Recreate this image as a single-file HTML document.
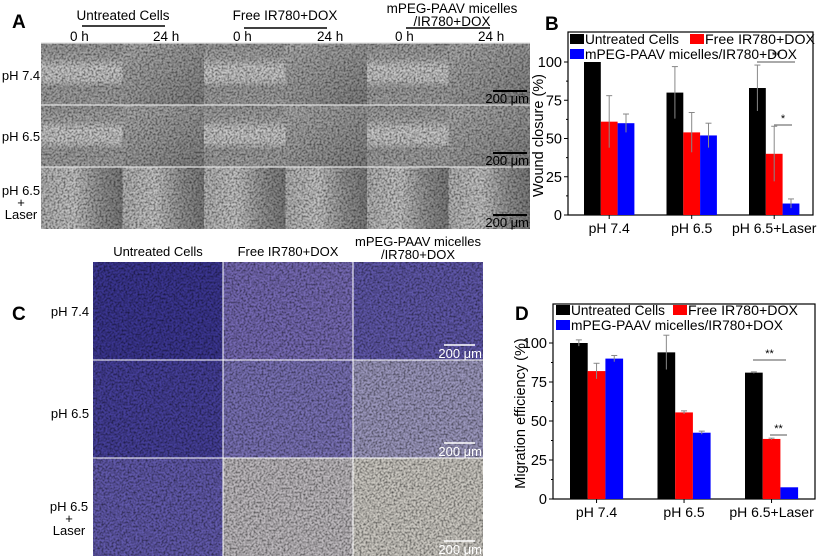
<!DOCTYPE html>
<html><head><meta charset="utf-8"><style>
body{margin:0;background:#fff;}
svg{display:block;font-family:"Liberation Sans",Arial,sans-serif;}
</style></head><body>
<svg width="817" height="560" viewBox="0 0 817 560">
<defs>
<linearGradient id="gw" x1="0" y1="0" x2="0" y2="1">
<stop offset="0" stop-color="#9a9a9a"/><stop offset="0.25" stop-color="#a6a6a6"/><stop offset="0.4" stop-color="#c8c8c8"/><stop offset="0.6" stop-color="#c2c2c2"/><stop offset="0.72" stop-color="#9c9c9c"/><stop offset="1" stop-color="#a0a0a0"/></linearGradient>
<linearGradient id="gc" x1="0" y1="0" x2="1" y2="1">
<stop offset="0" stop-color="#acacac"/><stop offset="0.5" stop-color="#989898"/><stop offset="1" stop-color="#7e7e7e"/></linearGradient>
<linearGradient id="gl" x1="0" y1="0" x2="1" y2="0">
<stop offset="0" stop-color="#b2b2b2"/><stop offset="0.4" stop-color="#c4c4c4"/><stop offset="0.7" stop-color="#969696"/><stop offset="1" stop-color="#7a7a7a"/></linearGradient>
<filter id="noise" x="0" y="0" width="1" height="1"><feTurbulence type="fractalNoise" baseFrequency="0.5" numOctaves="2"/><feColorMatrix type="matrix" values="0 0 0 0 0  0 0 0 0 0  0 0 0 0 0  1.2 0 0 0 -0.45"/></filter>
</defs>
<g id="panelA">
<text x="12" y="28" font-size="19" font-weight="bold">A</text>
<text x="123" y="20" font-size="13.5" text-anchor="middle">Untreated Cells</text>
<line x1="82" y1="26" x2="165" y2="26" stroke="#000" stroke-width="1.5"/>
<text x="285" y="20" font-size="13.5" text-anchor="middle">Free IR780+DOX</text>
<line x1="244" y1="28" x2="327" y2="28" stroke="#000" stroke-width="1.5"/>
<text x="452" y="13" font-size="13.5" text-anchor="middle">mPEG-PAAV micelles</text>
<text x="452" y="26" font-size="13.5" text-anchor="middle">/IR780+DOX</text>
<line x1="406" y1="28" x2="490" y2="28" stroke="#000" stroke-width="1.5"/>
<g font-size="13.5"><text x="70" y="41">0 h</text><text x="153" y="41">24 h</text><text x="233" y="41">0 h</text><text x="317" y="41">24 h</text><text x="395" y="41">0 h</text><text x="478" y="41">24 h</text></g>
<g font-size="13" text-anchor="middle"><text x="21" y="80">pH 7.4</text><text x="21" y="141">pH 6.5</text><text x="21" y="195">pH 6.5</text><text x="21" y="207">+</text><text x="21" y="219">Laser</text></g>
<g id="aimgs"></g>
</g>
<g id="panelC">
<text x="12" y="320" font-size="19" font-weight="bold">C</text>
<text x="158" y="256" font-size="13" text-anchor="middle">Untreated Cells</text>
<text x="288" y="256" font-size="13" text-anchor="middle">Free IR780+DOX</text>
<text x="418" y="246" font-size="13" text-anchor="middle">mPEG-PAAV micelles</text>
<text x="418" y="259" font-size="13" text-anchor="middle">/IR780+DOX</text>
<g font-size="13" text-anchor="middle"><text x="70" y="316">pH 7.4</text><text x="70" y="418">pH 6.5</text><text x="69" y="511">pH 6.5</text><text x="69" y="523">+</text><text x="69" y="535">Laser</text></g>
<g id="cimgs"></g>
</g>
<g id="chartB"></g>
<g id="chartD"></g>
</svg>
<script>
const NS="http://www.w3.org/2000/svg";
function mk(t,a,p){const e=document.createElementNS(NS,t);for(const k in a)e.setAttribute(k,a[k]);p.appendChild(e);return e;}
const ag=document.getElementById('aimgs');
const aFills=['url(#gw)','url(#gw)','url(#gl)'];
for(let r=0;r<3;r++)for(let c=0;c<6;c++){
 const x=41+c*81.5,y=43+r*62;
 const im=mk('rect',{x:x,y:y,width:81.5,height:62,fill:(c%2==1&&r<2)?'url(#gc)':aFills[r]},ag);
 
 
 mk('rect',{x:x,y:y,width:81.5,height:62,fill:'#000',filter:'url(#noise)'},ag);
}
for(let r=0;r<3;r++){mk('line',{x1:41,x2:530,y1:43+r*62,y2:43+r*62,stroke:'#e0e0e0','stroke-width':1.2},ag);}
for(let r=0;r<3;r++){const y=43+r*62;mk('line',{x1:493,x2:527,y1:y+48,y2:y+48,stroke:'#000','stroke-width':2},ag);const t=mk('text',{x:529,y:y+60,'font-size':13,'text-anchor':'end'},ag);t.textContent='200 μm';}
const cg=document.getElementById('cimgs');
const cCols=[['#3a3590','#7468b2','#5e56a8'],['#443e98','#7870b4','#9a96bc'],['#6058aa','#bcb8bc','#cac7c0']];
for(let r=0;r<3;r++)for(let c=0;c<3;c++){
 const x=93+c*130,y=262+r*98;
 const im=mk('rect',{x:x,y:y,width:130,height:98,fill:cCols[r][c]},cg);
 
 
 mk('rect',{x:x,y:y,width:130,height:98,fill:'#000',filter:'url(#noise)'},cg);
}
for(let r=1;r<3;r++)mk('line',{x1:93,x2:483,y1:262+r*98,y2:262+r*98,stroke:'#fff','stroke-width':1},cg);
for(let c=1;c<3;c++)mk('line',{x1:93+c*130,x2:93+c*130,y1:262,y2:556,stroke:'#fff','stroke-width':1},cg);
for(let r=0;r<3;r++){const y=262+r*98;mk('line',{x1:444,x2:475,y1:y+83,y2:y+83,stroke:'#fff','stroke-width':1.5},cg);const t=mk('text',{x:482,y:y+96,'font-size':13,'text-anchor':'end',fill:'#fff'},cg);t.textContent='200 μm';}

const groups=['pH 7.4','pH 6.5','pH 6.5+Laser'];
const seriesNames=['Untreated Cells','Free IR780+DOX','mPEG-PAAV micelles/IR780+DOX'];
const bUntreated=[100,80,83];
const bFree=[61,54,40];
const bMicelle=[60,52,7.5];
const bErrUntreated=[0,17,15];
const bErrFree=[17,13,18];
const bErrMicelle=[6,8,3];
const dUntreated=[100,94,81];
const dFree=[82,55.5,38.5];
const dMicelle=[90,42.5,7.5];
const dErrUntreated=[2,11,0.5];
const dErrFree=[5,1,0.5];
const dErrMicelle=[2,1,0];
const yTicks=[0,25,50,75,100];
const colors=['#000','#f00','#00f'];

function chart(gid,o){
 const g=document.getElementById(gid);
 const y=v=>o.y0-v*(o.y0-o.y100)/100;
 mk('rect',{x:o.left,y:o.top,width:o.right-o.left,height:o.y0-o.top,fill:'none',stroke:'#000','stroke-width':1.2},g);
 yTicks.forEach(t=>{mk('line',{x1:o.left-4,x2:o.left,y1:y(t),y2:y(t),stroke:'#000'},g);
  const tx=mk('text',{x:o.left-6,y:y(t)+5,'font-size':14.5,'text-anchor':'end'},g);tx.textContent=t;
  if(t<100)mk('line',{x1:o.left-2,x2:o.left,y1:y(t+12.5),y2:y(t+12.5),stroke:'#000'},g);});
 const yt=mk('text',{x:0,y:0,'font-size':14.5,'text-anchor':'middle',transform:`translate(${o.titleX},${(o.top+o.y0)/2+12}) rotate(-90)`},g);
 yt.textContent=o.title;
 
 
 const sets=[o.v[0],o.v[1],o.v[2]];
 groups.forEach((gn,i)=>{
  const gx=o.g0+i*o.gs;
  sets.forEach((vals,s)=>{
   const x=gx+s*o.bw;
   const b=mk('rect',{x:x,y:y(vals[i]),width:o.bw,height:y(0)-y(vals[i]),fill:colors[s]},g);
   
   
   const e=o.e[s][i];
   if(e>0){mk('line',{x1:x+o.bw/2,x2:x+o.bw/2,y1:y(vals[i]-e),y2:y(vals[i]+e),stroke:'#888','stroke-width':1},g);
    mk('line',{x1:x+o.bw/2-3,x2:x+o.bw/2+3,y1:y(vals[i]+e),y2:y(vals[i]+e),stroke:'#888'},g);}
  });
  const lt=mk('text',{x:gx+1.5*o.bw,y:o.y0+18,'font-size':14,'text-anchor':'middle'},g);lt.textContent=gn;
  mk('line',{x1:gx+1.5*o.bw,x2:gx+1.5*o.bw,y1:o.y0,y2:o.y0+4,stroke:'#000'},g);
 });
 o.sig.forEach(sg=>{mk('line',{x1:sg[0],x2:sg[1],y1:sg[2],y2:sg[2],stroke:'#555'},g);const t=mk('text',{x:(sg[0]+sg[1])/2,y:sg[2]-3,'font-size':11,'text-anchor':'middle'},g);t.textContent=sg[3];});
 const L=[[o.lx,o.ly,0,94],[o.lx+o.l2,o.ly,1,110],[o.lx,o.ly+15,2,212]];
 L.forEach(l=>{mk('rect',{x:l[0],y:l[1]-10,width:14,height:10,fill:colors[l[2]]},g);const t=mk('text',{x:l[0]+15,y:l[1],'font-size':14,textLength:l[3],lengthAdjust:'spacingAndGlyphs'},g);t.textContent=seriesNames[l[2]];
  
  });
 const P=mk('text',{x:o.px,y:o.py,'font-size':19,'font-weight':'bold'},g);P.textContent=o.plabel;
}
chart('chartB',{left:568,top:32,right:813,y0:215,y100:62,g0:584,gs:82.5,bw:16.8,v:[bUntreated,bFree,bMicelle],e:[bErrUntreated,bErrFree,bErrMicelle],title:'Wound closure (%)',titleX:543,lx:570,ly:44,l2:120,sig:[[757,795,62,'**'],[774,792,125,'*']],px:545,py:30,plabel:'B'});
chart('chartD',{left:553,top:304,right:815,y0:499,y100:343,g0:570,gs:87.5,bw:17.7,v:[dUntreated,dFree,dMicelle],e:[dErrUntreated,dErrFree,dErrMicelle],title:'Migration efficiency (%)',titleX:525,lx:556,ly:315,l2:117,sig:[[753,786,360,'**'],[770,787,435,'**']],px:515,py:320,plabel:'D'});
</script>
</body></html>
